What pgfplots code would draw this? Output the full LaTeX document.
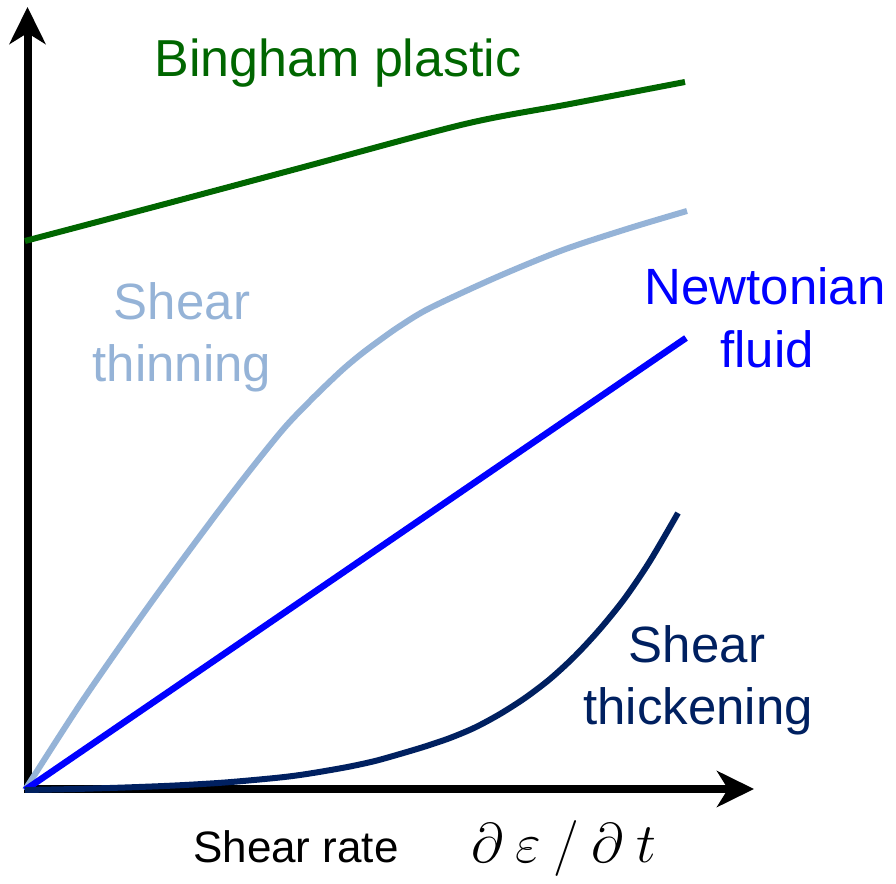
\RequirePackage{fix-cm}
\documentclass[border=0pt]{standalone}
\usepackage{fontspec}
\setmainfont{Liberation Sans}
\usepackage{pgfplots}
\pgfplotsset{compat=1.18}
\usetikzlibrary{arrows.meta}
\definecolor{binggreen}{RGB}{0,102,0}
\definecolor{thinblue}{RGB}{149,179,215}
\definecolor{newtblue}{RGB}{0,0,255}
\definecolor{thicknavy}{RGB}{0,32,96}
\begin{document}
\begin{tikzpicture}
\begin{axis}[
  scale only axis, width=896pt, height=883pt,
  xmin=0, xmax=896, ymin=0, ymax=883,
  hide axis, clip=false,
]
% axes (y = 883 - pixel row)
\addplot[black, line width=8pt, -{Stealth[length=37pt,width=36pt,inset=11pt]}] coordinates {(27.5,90) (27.5,876)};
\addplot[black, line width=8pt, -{Stealth[length=37pt,width=36pt,inset=11pt]}] coordinates {(23.5,94) (754,94)};
% Bingham plastic
\addplot[binggreen, line width=6pt, smooth] coordinates {
 (25,642) (150,675) (300,715) (465,759) (570,779) (685,801)};
% Shear thinning
\addplot[thinblue, line width=6pt, smooth] coordinates {
 (25,93) (83,183) (153,283) (227,383) (280,450) (310,482) (340,511) (360,528) (380,543) (400,557) (430,575) (497,606) (563,633) (630,655) (687,672)};
% Newtonian
\addplot[newtblue, line width=6.5pt] coordinates {(25,93) (686,545)};
% Shear thickening
\addplot[thicknavy, line width=6pt, smooth] coordinates {
 (25,93) (75,94) (125,95.5) (175,97.5) (225,100.5) (275,105) (300,108) (325,112) (350,116.5) (375,122) (400,129) (425,136.5) (450,145) (475,155.5) (500,169) (525,185) (550,204) (575,227) (600,254) (625,285) (650,322) (678,370)};
% labels
\node[anchor=base, text=binggreen, font=\fontsize{52}{60}\selectfont] at (axis cs:338,806) {Bingham plastic};
\node[anchor=base, text=thinblue, font=\fontsize{51}{60}\selectfont] at (axis cs:182,563) {Shear};
\node[anchor=base, text=thinblue, font=\fontsize{51}{60}\selectfont] at (axis cs:182,501) {thinning};
\node[anchor=base, text=newtblue, font=\fontsize{51}{60}\selectfont] at (axis cs:765,578) {Newtonian};
\node[anchor=base, text=newtblue, font=\fontsize{51}{60}\selectfont] at (axis cs:767,515) {fluid};
\node[anchor=base, text=thicknavy, font=\fontsize{51}{60}\selectfont] at (axis cs:697,220) {Shear};
\node[anchor=base, text=thicknavy, font=\fontsize{51}{60}\selectfont] at (axis cs:698,158) {thickening};
\node[anchor=base west, inner sep=0pt, text=black, font=\fontsize{44}{52}\selectfont] at (axis cs:193,21) {Shear rate};
\node[anchor=base west, inner sep=0pt, text=black, font=\fontsize{56}{60}\selectfont] at (axis cs:471,21) {$\partial\:\varepsilon\:/\:\partial\: t$};
\end{axis}
\pgfresetboundingbox
\useasboundingbox (0,0) rectangle (896pt,883pt);
\end{tikzpicture}
\end{document}
